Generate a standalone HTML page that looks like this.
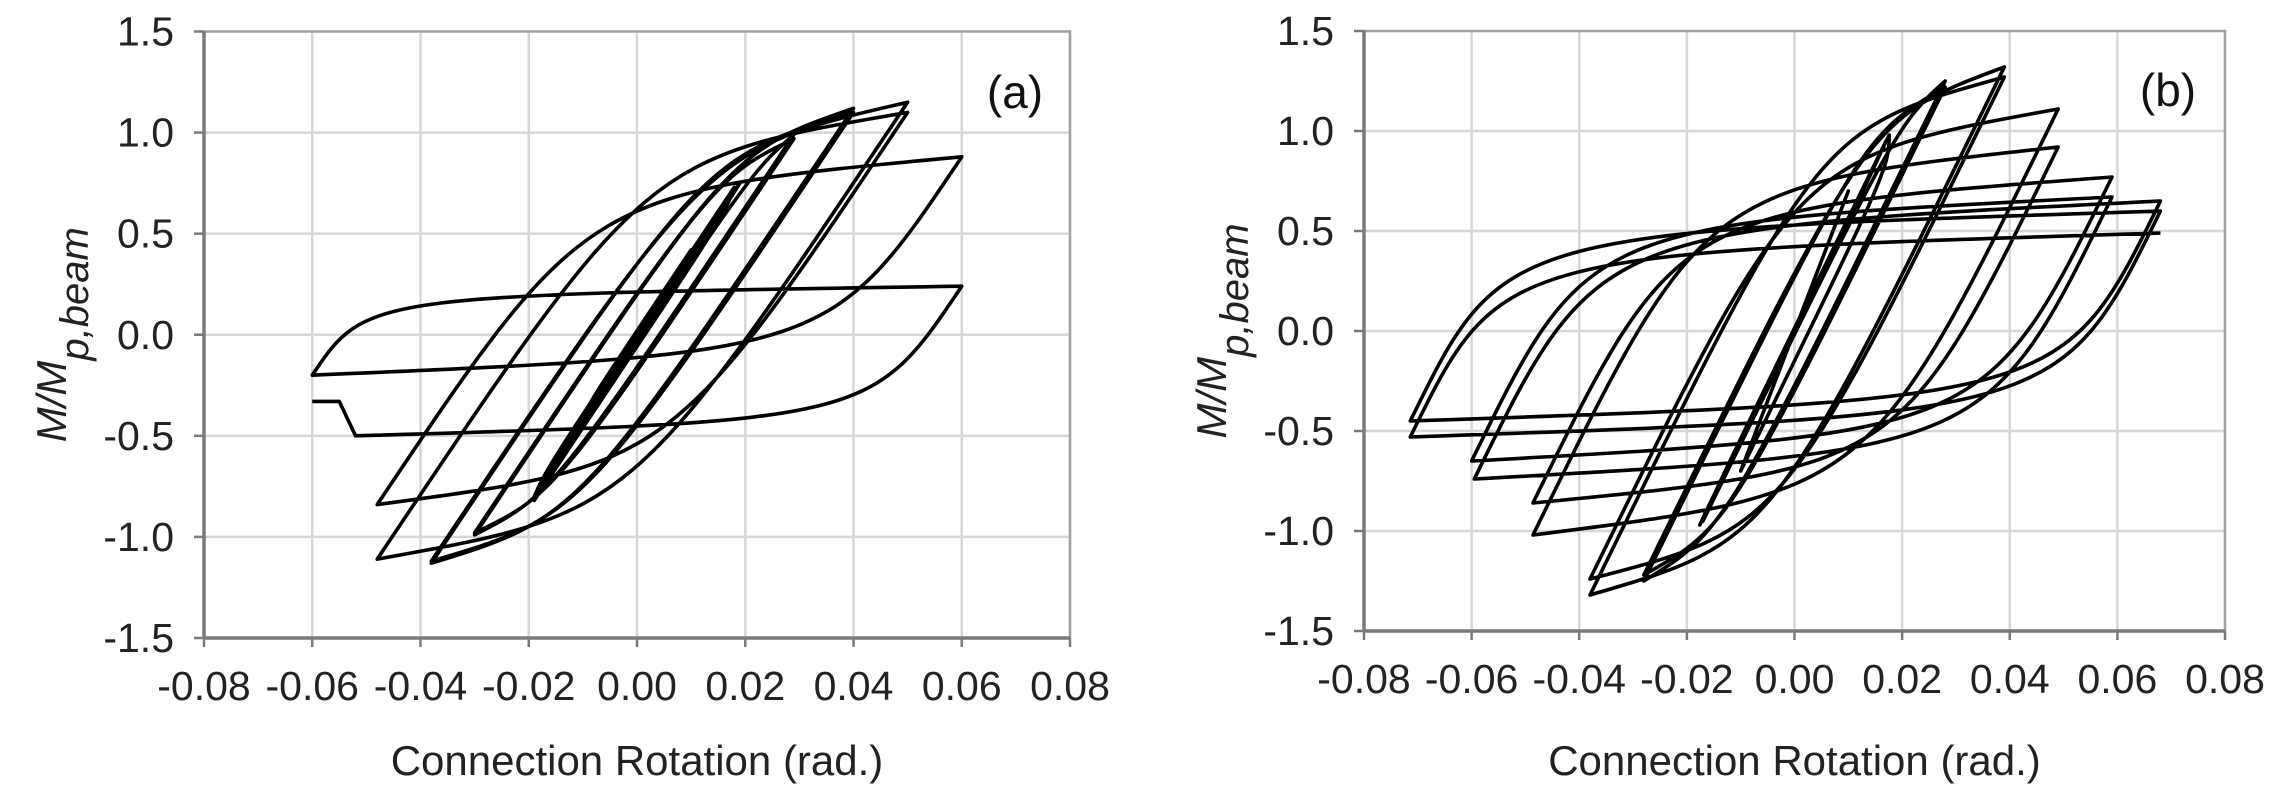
<!DOCTYPE html>
<html><head><meta charset="utf-8"><style>
html,body{margin:0;padding:0;background:#fff;}
svg{display:block;font-family:"Liberation Sans",Arial,sans-serif;}
</style></head><body>
<svg id="fig" width="2278" height="800" viewBox="0 0 2278 800" xmlns="http://www.w3.org/2000/svg">
<g id="chartA"></g>
<g id="chartB"></g>
</svg>
<script>
const xTicks = [-0.08,-0.06,-0.04,-0.02,0.00,0.02,0.04,0.06,0.08];
const yTicks = [1.5,1.0,0.5,0.0,-0.5,-1.0,-1.5];
// Chart (a) reversal points (rotation, M/Mp) in loading order
const aRevX = [0.005,-0.005,0.005,-0.005,0.0075,-0.0075,0.0075,-0.0075,0.01,-0.01,0.01,-0.01,0.015,-0.015,0.015,-0.015,0.019,-0.019,0.018,-0.019,0.029,-0.03,0.029,-0.03,0.04,-0.038,0.04,-0.038,0.05,-0.048,0.05,-0.048,0.06,-0.06,0.06,-0.052,-0.055,-0.06];
const aRevY = [0.2,-0.2,0.2,-0.2,0.3,-0.3,0.3,-0.3,0.42,-0.42,0.42,-0.42,0.6,-0.62,0.6,-0.62,0.75,-0.82,0.73,-0.8,0.99,-0.99,0.97,-0.98,1.12,-1.13,1.1,-1.12,1.15,-1.11,1.1,-0.84,0.88,-0.2,0.24,-0.5,-0.33,-0.33];
// Chart (b) reversal points
const bRevX = [0.006,-0.006,0.006,-0.006,0.01,-0.01,0.01,-0.01,0.0176,-0.0176,0.017,-0.017,0.028,-0.028,0.028,-0.028,0.039,-0.038,0.039,-0.038,0.049,-0.0486,0.049,-0.0486,0.059,-0.06,0.059,-0.0595,0.068,-0.0714,0.068,-0.0714,0.068];
const bRevY = [0.42,-0.42,0.42,-0.42,0.7,-0.7,0.7,-0.7,0.98,-0.97,0.95,-0.95,1.25,-1.25,1.22,-1.22,1.32,-1.32,1.27,-1.24,1.11,-1.02,0.92,-0.86,0.77,-0.65,0.67,-0.74,0.65,-0.45,0.6,-0.53,0.49];

const NS='http://www.w3.org/2000/svg';
function mk(tag, attrs, parent){const e=document.createElementNS(NS,tag);for(const k in attrs)e.setAttribute(k,attrs[k]);parent.appendChild(e);return e;}

function drawChart(g, box, revX, revY, k, label, lx, ly){
  const xS = v => box.x0 + (v+0.08)/0.16*(box.x1-box.x0);
  const yS = v => box.y0 + (1.5-v)/3*(box.y1-box.y0);
  // gridlines
  xTicks.forEach(t=>{ if(t>-0.08){
    const l=mk('line',{x1:xS(t),x2:xS(t),y1:box.y0,y2:box.y1,stroke:'#d6d6d6','stroke-width':2.5},g);
    
    
  }});
  yTicks.forEach(t=>{ if(t<1.5 && t>-1.5){
    const l=mk('line',{x1:box.x0,x2:box.x1,y1:yS(t),y2:yS(t),stroke:'#d6d6d6','stroke-width':2.5},g);
    
    
  }});
  // plot border top/right
  const br=mk('path',{d:`M${box.x0},${box.y0}H${box.x1}V${box.y1}`,fill:'none',stroke:'#a0a0a0','stroke-width':2.5},g);
  
  
  // axes
  const ax=mk('line',{x1:box.x0,x2:box.x1,y1:box.y1,y2:box.y1,stroke:'#7a7a7a','stroke-width':3.5},g);
  
  
  const ay=mk('line',{x1:box.x0,x2:box.x0,y1:box.y0,y2:box.y1,stroke:'#7a7a7a','stroke-width':3.5},g);
  
  
  xTicks.forEach(t=>{
    const tk=mk('line',{x1:xS(t),x2:xS(t),y1:box.y1,y2:box.y1+9,stroke:'#7a7a7a','stroke-width':2.5},g);
    
    
    const tx=mk('text',{x:xS(t),y:box.y1+62,'font-size':41,'text-anchor':'middle',fill:'#222'},g);
    tx.textContent=t.toFixed(2);
    
    
  });
  yTicks.forEach(t=>{
    const tk=mk('line',{x1:box.x0-10,x2:box.x0,y1:yS(t),y2:yS(t),stroke:'#7a7a7a','stroke-width':2.5},g);
    
    
    const tx=mk('text',{x:box.x0-30,y:yS(t)+14,'font-size':41,'text-anchor':'end',fill:'#222'},g);
    tx.textContent=t.toFixed(1);
    
    
  });
  // x title
  const xt=mk('text',{x:(box.x0+box.x1)/2,y:775,'font-size':42,'text-anchor':'middle',fill:'#222'},g);
  xt.textContent='Connection Rotation (rad.)';
  
  
  // y title
  const cy=(box.y0+box.y1)/2;
  const yt=mk('text',{x:box.ytx,y:cy,'font-size':42,'text-anchor':'middle',fill:'#222','font-style':'italic',transform:`rotate(-90 ${box.ytx} ${cy})`},g);
  
  
  const s1=mk('tspan',{},yt); s1.textContent='M/M';
  const s2=mk('tspan',{'baseline-shift':'sub','font-size':40},yt); s2.textContent='p,beam';
  // panel label
  const pl=mk('text',{x:lx,y:ly,'font-size':46,'text-anchor':'middle',fill:'#111'},g);
  pl.textContent=label;
  
  
  // hysteresis curve
  let d=`M${xS(0)},${yS(0)}`;
  let px=0, py=0;
  for(let i=0;i<revX.length;i++){
    const ex=revX[i], ey=revY[i];
    let kx = px + (ey-py)*0.9/k, ky = py + (ey-py)*0.9;
    if((ey>py && kx>ex) || (ey<py && kx<ex)){kx=(px+ex)/2; ky=(py+ey)/2;}
    d+=` C${xS(kx)},${yS(ky)} ${xS(kx)},${yS(ky)} ${xS(ex)},${yS(ey)}`;
    px=ex; py=ey;
  }
  const cv=mk('path',{d:d,fill:'none',stroke:'#000','stroke-width':3.6,'stroke-linejoin':'round'},g);
  
  
}
drawChart(document.getElementById('chartA'),{x0:204,x1:1070,y0:31.5,y1:638,ytx:66},aRevX,aRevY,40,'(a)',1015,108);
drawChart(document.getElementById('chartB'),{x0:1364,x1:2225,y0:31,y1:631,ytx:1226},bRevX,bRevY,55,'(b)',2168,106);
</script>
</body></html>
